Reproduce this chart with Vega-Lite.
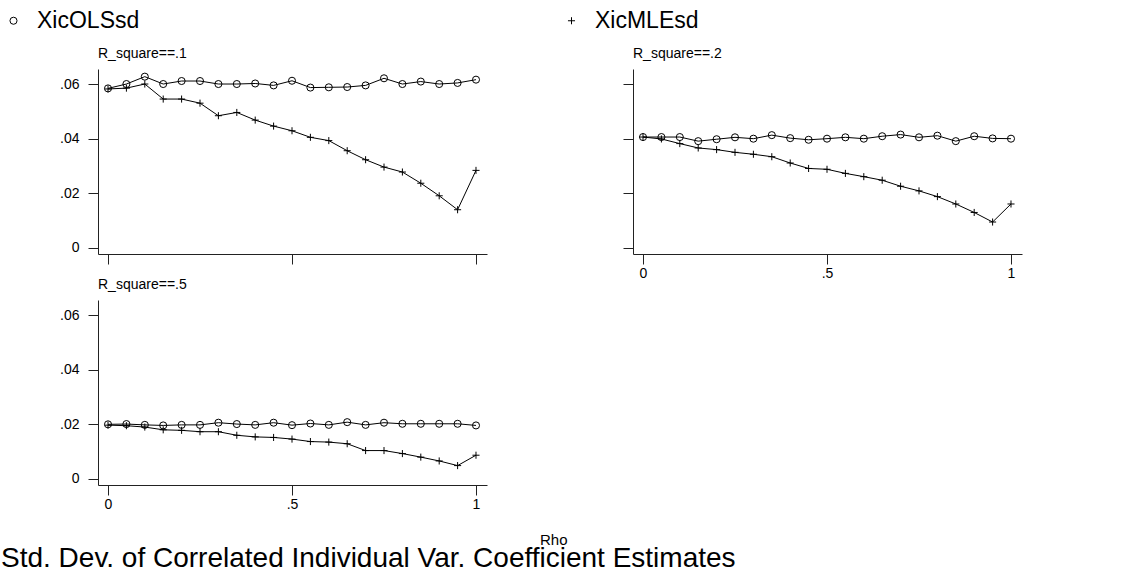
{
"$schema": "https://vega.github.io/schema/vega-lite/v6.json",
"padding": {"left": 1, "top": 9, "right": 5, "bottom": 0},
"config": {
  "font": "Liberation Sans",
  "view": {"stroke": null},
  "axis": {"grid": false, "domainColor": "#222", "tickColor": "#222", "labelColor": "#000", "labelFontSize": 14, "tickSize": 10, "labelFont": "Liberation Sans"},
  "axisY": {"labelPadding": 9},
  "axisX": {"labelPadding": 2},
  "title": {"fontWeight": "normal", "color": "#000"}
},
"datasets": {"d": [
{"R":0.1,"rho":0,"series":"XicOLSsd","sd":0.0584},{"R":0.1,"rho":0.05,"series":"XicOLSsd","sd":0.0600},{"R":0.1,"rho":0.1,"series":"XicOLSsd","sd":0.0627},{"R":0.1,"rho":0.15,"series":"XicOLSsd","sd":0.0600},{"R":0.1,"rho":0.2,"series":"XicOLSsd","sd":0.0611},{"R":0.1,"rho":0.25,"series":"XicOLSsd","sd":0.0611},{"R":0.1,"rho":0.3,"series":"XicOLSsd","sd":0.0600},{"R":0.1,"rho":0.35,"series":"XicOLSsd","sd":0.0600},{"R":0.1,"rho":0.4,"series":"XicOLSsd","sd":0.0602},{"R":0.1,"rho":0.45,"series":"XicOLSsd","sd":0.0595},{"R":0.1,"rho":0.5,"series":"XicOLSsd","sd":0.0612},{"R":0.1,"rho":0.55,"series":"XicOLSsd","sd":0.0587},{"R":0.1,"rho":0.6,"series":"XicOLSsd","sd":0.0588},{"R":0.1,"rho":0.65,"series":"XicOLSsd","sd":0.0589},{"R":0.1,"rho":0.7,"series":"XicOLSsd","sd":0.0595},{"R":0.1,"rho":0.75,"series":"XicOLSsd","sd":0.0621},{"R":0.1,"rho":0.8,"series":"XicOLSsd","sd":0.0600},{"R":0.1,"rho":0.85,"series":"XicOLSsd","sd":0.0609},{"R":0.1,"rho":0.9,"series":"XicOLSsd","sd":0.0600},{"R":0.1,"rho":0.95,"series":"XicOLSsd","sd":0.0604},{"R":0.1,"rho":1,"series":"XicOLSsd","sd":0.0616},
{"R":0.1,"rho":0,"series":"XicMLEsd","sd":0.0582},{"R":0.1,"rho":0.05,"series":"XicMLEsd","sd":0.0585},{"R":0.1,"rho":0.1,"series":"XicMLEsd","sd":0.0600},{"R":0.1,"rho":0.15,"series":"XicMLEsd","sd":0.0545},{"R":0.1,"rho":0.2,"series":"XicMLEsd","sd":0.0545},{"R":0.1,"rho":0.25,"series":"XicMLEsd","sd":0.0530},{"R":0.1,"rho":0.3,"series":"XicMLEsd","sd":0.0484},{"R":0.1,"rho":0.35,"series":"XicMLEsd","sd":0.0496},{"R":0.1,"rho":0.4,"series":"XicMLEsd","sd":0.0468},{"R":0.1,"rho":0.45,"series":"XicMLEsd","sd":0.0446},{"R":0.1,"rho":0.5,"series":"XicMLEsd","sd":0.0429},{"R":0.1,"rho":0.55,"series":"XicMLEsd","sd":0.0405},{"R":0.1,"rho":0.6,"series":"XicMLEsd","sd":0.0393},{"R":0.1,"rho":0.65,"series":"XicMLEsd","sd":0.0356},{"R":0.1,"rho":0.7,"series":"XicMLEsd","sd":0.0323},{"R":0.1,"rho":0.75,"series":"XicMLEsd","sd":0.0296},{"R":0.1,"rho":0.8,"series":"XicMLEsd","sd":0.0278},{"R":0.1,"rho":0.85,"series":"XicMLEsd","sd":0.0237},{"R":0.1,"rho":0.9,"series":"XicMLEsd","sd":0.0191},{"R":0.1,"rho":0.95,"series":"XicMLEsd","sd":0.0140},{"R":0.1,"rho":1,"series":"XicMLEsd","sd":0.0284},
{"R":0.2,"rho":0,"series":"XicOLSsd","sd":0.0406},{"R":0.2,"rho":0.05,"series":"XicOLSsd","sd":0.0406},{"R":0.2,"rho":0.1,"series":"XicOLSsd","sd":0.0406},{"R":0.2,"rho":0.15,"series":"XicOLSsd","sd":0.0391},{"R":0.2,"rho":0.2,"series":"XicOLSsd","sd":0.0398},{"R":0.2,"rho":0.25,"series":"XicOLSsd","sd":0.0405},{"R":0.2,"rho":0.3,"series":"XicOLSsd","sd":0.0400},{"R":0.2,"rho":0.35,"series":"XicOLSsd","sd":0.0413},{"R":0.2,"rho":0.4,"series":"XicOLSsd","sd":0.0402},{"R":0.2,"rho":0.45,"series":"XicOLSsd","sd":0.0396},{"R":0.2,"rho":0.5,"series":"XicOLSsd","sd":0.0400},{"R":0.2,"rho":0.55,"series":"XicOLSsd","sd":0.0405},{"R":0.2,"rho":0.6,"series":"XicOLSsd","sd":0.0400},{"R":0.2,"rho":0.65,"series":"XicOLSsd","sd":0.0409},{"R":0.2,"rho":0.7,"series":"XicOLSsd","sd":0.0415},{"R":0.2,"rho":0.75,"series":"XicOLSsd","sd":0.0405},{"R":0.2,"rho":0.8,"series":"XicOLSsd","sd":0.0411},{"R":0.2,"rho":0.85,"series":"XicOLSsd","sd":0.0391},{"R":0.2,"rho":0.9,"series":"XicOLSsd","sd":0.0409},{"R":0.2,"rho":0.95,"series":"XicOLSsd","sd":0.0401},{"R":0.2,"rho":1,"series":"XicOLSsd","sd":0.0400},
{"R":0.2,"rho":0,"series":"XicMLEsd","sd":0.0406},{"R":0.2,"rho":0.05,"series":"XicMLEsd","sd":0.0399},{"R":0.2,"rho":0.1,"series":"XicMLEsd","sd":0.0382},{"R":0.2,"rho":0.15,"series":"XicMLEsd","sd":0.0366},{"R":0.2,"rho":0.2,"series":"XicMLEsd","sd":0.0360},{"R":0.2,"rho":0.25,"series":"XicMLEsd","sd":0.0350},{"R":0.2,"rho":0.3,"series":"XicMLEsd","sd":0.0343},{"R":0.2,"rho":0.35,"series":"XicMLEsd","sd":0.0334},{"R":0.2,"rho":0.4,"series":"XicMLEsd","sd":0.0311},{"R":0.2,"rho":0.45,"series":"XicMLEsd","sd":0.0291},{"R":0.2,"rho":0.5,"series":"XicMLEsd","sd":0.0288},{"R":0.2,"rho":0.55,"series":"XicMLEsd","sd":0.0273},{"R":0.2,"rho":0.6,"series":"XicMLEsd","sd":0.0261},{"R":0.2,"rho":0.65,"series":"XicMLEsd","sd":0.0248},{"R":0.2,"rho":0.7,"series":"XicMLEsd","sd":0.0226},{"R":0.2,"rho":0.75,"series":"XicMLEsd","sd":0.0209},{"R":0.2,"rho":0.8,"series":"XicMLEsd","sd":0.0188},{"R":0.2,"rho":0.85,"series":"XicMLEsd","sd":0.0161},{"R":0.2,"rho":0.9,"series":"XicMLEsd","sd":0.0130},{"R":0.2,"rho":0.95,"series":"XicMLEsd","sd":0.0095},{"R":0.2,"rho":1,"series":"XicMLEsd","sd":0.0161},
{"R":0.5,"rho":0,"series":"XicOLSsd","sd":0.0200},{"R":0.5,"rho":0.05,"series":"XicOLSsd","sd":0.0201},{"R":0.5,"rho":0.1,"series":"XicOLSsd","sd":0.0198},{"R":0.5,"rho":0.15,"series":"XicOLSsd","sd":0.0196},{"R":0.5,"rho":0.2,"series":"XicOLSsd","sd":0.0198},{"R":0.5,"rho":0.25,"series":"XicOLSsd","sd":0.0198},{"R":0.5,"rho":0.3,"series":"XicOLSsd","sd":0.0206},{"R":0.5,"rho":0.35,"series":"XicOLSsd","sd":0.0201},{"R":0.5,"rho":0.4,"series":"XicOLSsd","sd":0.0198},{"R":0.5,"rho":0.45,"series":"XicOLSsd","sd":0.0206},{"R":0.5,"rho":0.5,"series":"XicOLSsd","sd":0.0197},{"R":0.5,"rho":0.55,"series":"XicOLSsd","sd":0.0203},{"R":0.5,"rho":0.6,"series":"XicOLSsd","sd":0.0198},{"R":0.5,"rho":0.65,"series":"XicOLSsd","sd":0.0208},{"R":0.5,"rho":0.7,"series":"XicOLSsd","sd":0.0198},{"R":0.5,"rho":0.75,"series":"XicOLSsd","sd":0.0206},{"R":0.5,"rho":0.8,"series":"XicOLSsd","sd":0.0202},{"R":0.5,"rho":0.85,"series":"XicOLSsd","sd":0.0202},{"R":0.5,"rho":0.9,"series":"XicOLSsd","sd":0.0202},{"R":0.5,"rho":0.95,"series":"XicOLSsd","sd":0.0202},{"R":0.5,"rho":1,"series":"XicOLSsd","sd":0.0196},
{"R":0.5,"rho":0,"series":"XicMLEsd","sd":0.0197},{"R":0.5,"rho":0.05,"series":"XicMLEsd","sd":0.0195},{"R":0.5,"rho":0.1,"series":"XicMLEsd","sd":0.0190},{"R":0.5,"rho":0.15,"series":"XicMLEsd","sd":0.0180},{"R":0.5,"rho":0.2,"series":"XicMLEsd","sd":0.0178},{"R":0.5,"rho":0.25,"series":"XicMLEsd","sd":0.0173},{"R":0.5,"rho":0.3,"series":"XicMLEsd","sd":0.0173},{"R":0.5,"rho":0.35,"series":"XicMLEsd","sd":0.0160},{"R":0.5,"rho":0.4,"series":"XicMLEsd","sd":0.0154},{"R":0.5,"rho":0.45,"series":"XicMLEsd","sd":0.0152},{"R":0.5,"rho":0.5,"series":"XicMLEsd","sd":0.0146},{"R":0.5,"rho":0.55,"series":"XicMLEsd","sd":0.0137},{"R":0.5,"rho":0.6,"series":"XicMLEsd","sd":0.0135},{"R":0.5,"rho":0.65,"series":"XicMLEsd","sd":0.0129},{"R":0.5,"rho":0.7,"series":"XicMLEsd","sd":0.0104},{"R":0.5,"rho":0.75,"series":"XicMLEsd","sd":0.0104},{"R":0.5,"rho":0.8,"series":"XicMLEsd","sd":0.0093},{"R":0.5,"rho":0.85,"series":"XicMLEsd","sd":0.0080},{"R":0.5,"rho":0.9,"series":"XicMLEsd","sd":0.0066},{"R":0.5,"rho":0.95,"series":"XicMLEsd","sd":0.0049},{"R":0.5,"rho":1,"series":"XicMLEsd","sd":0.0087}
]},
"title": {"text": "Std. Dev. of Correlated Individual Var. Coefficient Estimates", "orient": "bottom", "anchor": "start", "fontSize": 28, "offset": -3, "dx": -1},
"vconcat": [{
  "title": {"text": "Rho", "orient": "bottom", "anchor": "middle", "fontSize": 15, "offset": 22, "dx": 13},
  "spacing": -2,
  "vconcat": [
    {"hconcat": [
      {
        "width": 389, "height": 185,
        "title": {"text": "R_square==.1", "anchor": "start", "frame": "group", "fontSize": 14, "offset": 8},
        "data": {"name": "d"},
        "transform": [{"filter": "datum.R == 0.1"}],
        "encoding": {
          "x": {"field": "rho", "type": "quantitative", "title": null, "scale": {"domain": [-0.0272, 1.0299], "nice": false, "zero": false}, "axis": {"values": [0, 0.5, 1], "labels": false}},
          "y": {"field": "sd", "type": "quantitative", "title": null, "scale": {"domain": [-0.0022, 0.0655], "nice": false, "zero": false}, "axis": {"values": [0, 0.02, 0.04, 0.06], "labelExpr": "datum.value == 0 ? '0' : replace(format(datum.value, '.2f'), '0.', '.')"}}
        },
        "layer": [
          {"mark": {"type": "line", "color": "black", "strokeWidth": 1}, "encoding": {"detail": {"field": "series"}}},
          {"mark": {"type": "point", "filled": false, "color": "black", "strokeWidth": 1, "size": 50, "opacity": 1},
           "encoding": {"shape": {"field": "series", "type": "nominal", "scale": {"domain": ["XicOLSsd", "XicMLEsd"], "range": ["circle", "M-1,0H1M0,-1V1"]},
             "legend": {"title": null, "orient": "none", "legendX": -96, "legendY": -60, "direction": "horizontal", "labelFontSize": 23, "labelColor": "#000", "columnPadding": 420, "symbolSize": 50, "symbolStrokeColor": "black", "symbolStrokeWidth": 1, "labelOffset": 12}}}}
        ]
      },
      {
        "width": 389, "height": 185,
        "title": {"text": "R_square==.2", "anchor": "start", "frame": "group", "fontSize": 14, "offset": 8},
        "data": {"name": "d"},
        "transform": [{"filter": "datum.R == 0.2"}],
        "encoding": {
          "x": {"field": "rho", "type": "quantitative", "title": null, "scale": {"domain": [-0.0272, 1.0299], "nice": false, "zero": false}, "axis": {"values": [0, 0.5, 1], "labelExpr": "datum.value == 0 ? '0' : datum.value == 1 ? '1' : replace(format(datum.value, '.1f'), '0.', '.')"}},
          "y": {"field": "sd", "type": "quantitative", "title": null, "scale": {"domain": [-0.0022, 0.0655], "nice": false, "zero": false}, "axis": {"values": [0, 0.02, 0.04, 0.06], "labels": false}}
        },
        "layer": [
          {"mark": {"type": "line", "color": "black", "strokeWidth": 1}, "encoding": {"detail": {"field": "series"}}},
          {"mark": {"type": "point", "filled": false, "color": "black", "strokeWidth": 1, "size": 50, "opacity": 1},
           "encoding": {"shape": {"field": "series", "type": "nominal", "scale": {"domain": ["XicOLSsd", "XicMLEsd"], "range": ["circle", "M-1,0H1M0,-1V1"]},
             "legend": {"title": null, "orient": "none", "legendX": -96, "legendY": -60, "direction": "horizontal", "labelFontSize": 23, "labelColor": "#000", "columnPadding": 420, "symbolSize": 50, "symbolStrokeColor": "black", "symbolStrokeWidth": 1, "labelOffset": 12}}}}
        ]
      }
    ], "spacing": 135},
    {
      "width": 389, "height": 185,
      "title": {"text": "R_square==.5", "anchor": "start", "frame": "group", "fontSize": 14, "offset": 8},
      "data": {"name": "d"},
      "transform": [{"filter": "datum.R == 0.5"}],
      "encoding": {
        "x": {"field": "rho", "type": "quantitative", "title": null, "scale": {"domain": [-0.0272, 1.0299], "nice": false, "zero": false}, "axis": {"values": [0, 0.5, 1], "labelExpr": "datum.value == 0 ? '0' : datum.value == 1 ? '1' : replace(format(datum.value, '.1f'), '0.', '.')"}},
        "y": {"field": "sd", "type": "quantitative", "title": null, "scale": {"domain": [-0.0022, 0.0655], "nice": false, "zero": false}, "axis": {"values": [0, 0.02, 0.04, 0.06], "labelExpr": "datum.value == 0 ? '0' : replace(format(datum.value, '.2f'), '0.', '.')"}}
      },
      "layer": [
        {"mark": {"type": "line", "color": "black", "strokeWidth": 1}, "encoding": {"detail": {"field": "series"}}},
        {"mark": {"type": "point", "filled": false, "color": "black", "strokeWidth": 1, "size": 50, "opacity": 1},
         "encoding": {"shape": {"field": "series", "type": "nominal", "scale": {"domain": ["XicOLSsd", "XicMLEsd"], "range": ["circle", "M-1,0H1M0,-1V1"]},
           "legend": {"title": null, "orient": "none", "legendX": -96, "legendY": -60, "direction": "horizontal", "labelFontSize": 23, "labelColor": "#000", "columnPadding": 420, "symbolSize": 50, "symbolStrokeColor": "black", "symbolStrokeWidth": 1, "labelOffset": 12}}}}
      ]
    }
  ]
}]
}
